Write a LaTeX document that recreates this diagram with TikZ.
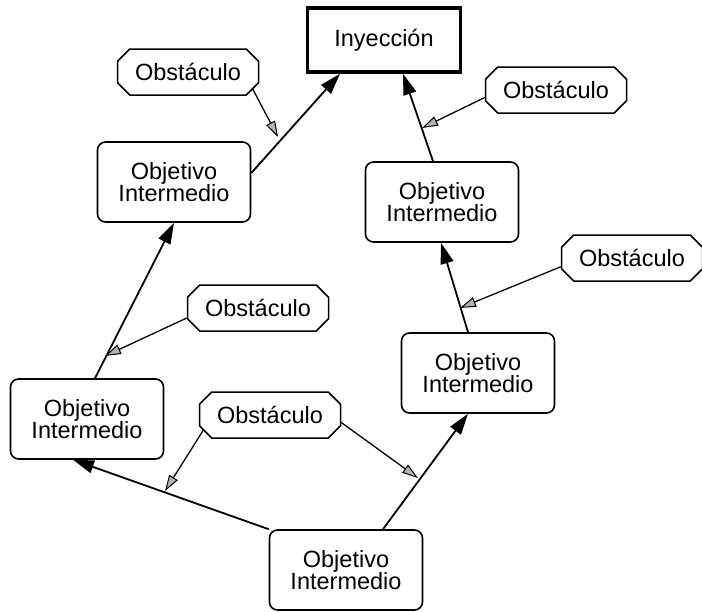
\documentclass[tikz,border=0pt]{standalone}
\usepackage{fontspec}
\setmainfont{Liberation Sans}
\usetikzlibrary{shapes.misc,arrows.meta}

\tikzset{
  lbl/.style={font=\fontsize{23.5}{22.5}\selectfont, align=center, inner sep=0pt},
  goal/.style={lbl, draw, line width=1.6pt, rounded corners=8pt,
    minimum width=153pt, minimum height=80pt},
  target/.style={lbl, draw, line width=3.5pt, minimum width=153pt, minimum height=64pt},
  obstacle/.style={lbl, draw, line width=1.5pt, chamfered rectangle,
    chamfered rectangle xsep=12pt, chamfered rectangle angle=45,
    minimum width=141pt, minimum height=46pt},
  link/.style={line width=1.8pt, -{Triangle[length=21pt,width=13pt]}},
  block/.style={line width=1.3pt, -{Triangle[length=16pt,width=10pt,fill=gray!60,line width=1pt]}}
}

\begin{document}
\begin{tikzpicture}[x=1pt,y=-1pt]
\useasboundingbox (0,0) rectangle (702,611);

% final goal
\node[target] (iny) at (384,40) {Inyección};

% intermediate goals
\node[goal] (objA) at (174,182) {Objetivo\\Intermedio};
\node[goal] (objB) at (442,202) {Objetivo\\Intermedio};
\node[goal] (objC) at (478,373) {Objetivo\\Intermedio};
\node[goal] (objD) at (87,419)  {Objetivo\\Intermedio};
\node[goal] (objE) at (346,570) {Objetivo\\Intermedio};

% obstacles
\node[obstacle] (obsA) at (188,72)  {Obstáculo};
\node[obstacle] (obsB) at (556,90)  {Obstáculo};
\node[obstacle] (obsC) at (632,258) {Obstáculo};
\node[obstacle] (obsD) at (258,308) {Obstáculo};
\node[obstacle] (obsE) at (270,415) {Obstáculo};

% goal chain
\draw[link] ([yshift=9pt]objA.east) -- ([xshift=-44pt]iny.south);
\draw[link] ([xshift=-9pt]objB.north) -- ([xshift=19pt]iny.south);
\draw[link] ([xshift=-10pt]objC.north) -- ([xshift=-1pt]objB.south);
\draw[link] ([xshift=37pt]objE.north) -- ([xshift=-10pt]objC.south);
\draw[link] (objE.north west) -- ([xshift=-14pt]objD.south);
\draw[link] ([xshift=8pt]objD.north) -- (objA.south);

% points where obstacles strike the chain
\coordinate (tA) at (278,137);
\coordinate (tB) at (422,128);
\coordinate (tC) at (460,308);
\coordinate (tD) at (105,356);
\coordinate (tE) at (418,478);
\coordinate (tF) at (165,491);

\draw[block] (obsA.-15) -- (tA);
\draw[block] (obsB.186) -- (tB);
\draw[block] (obsC.187) -- (tC);
\draw[block] (obsD.188) -- (tD);
\draw[block] (obsE.-6)  -- (tE);
\draw[block] (obsE.193) -- (tF);
\end{tikzpicture}
\end{document}
